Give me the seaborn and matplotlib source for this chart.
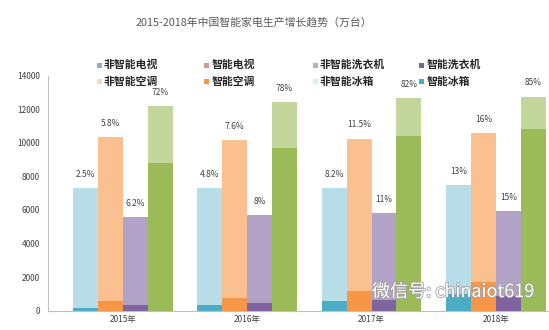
import matplotlib
matplotlib.use("Agg")
import matplotlib.pyplot as plt
import matplotlib.patheffects as pe
from matplotlib.patches import Rectangle
import seaborn as sns
import pandas as pd

years = ["2015年", "2016年", "2017年", "2018年"]
appliances = ["冰箱", "空调", "洗衣机", "电视"]
# totals (万台)
fridge_total = [7300, 7300, 7300, 7500]
ac_total = [10350, 10150, 10250, 10550]
washer_total = [5580, 5700, 5820, 5940]
tv_total = [12200, 12450, 12650, 12750]
# smart share (%)
fridge_pct = [2.5, 4.8, 8.2, 13]
ac_pct = [5.8, 7.6, 11.5, 16]
washer_pct = [6.2, 8, 11, 15]
tv_pct = [72, 78, 82, 85]
pct_labels = {
    "冰箱": ["2.5%", "4.8%", "8.2%", "13%"],
    "空调": ["5.8%", "7.6%", "11.5%", "16%"],
    "洗衣机": ["6.2%", "8%", "11%", "15%"],
    "电视": ["72%", "78%", "82%", "85%"],
}

legend_labels = ["非智能电视", "智能电视", "非智能洗衣机", "智能洗衣机",
                 "非智能空调", "智能空调", "非智能冰箱", "智能冰箱"]
legend_colors = ["#95A8C8", "#D99594", "#B2B2BA", "#6E6A8C",
                 "#FCD5B4", "#F79646", "#DAEEF3", "#4BACC6"]

totals = {"冰箱": fridge_total, "空调": ac_total, "洗衣机": washer_total, "电视": tv_total}
pcts = {"冰箱": fridge_pct, "空调": ac_pct, "洗衣机": washer_pct, "电视": tv_pct}

rows = []
for a in appliances:
    for i, y in enumerate(years):
        t = totals[a][i]
        rows.append({"year": y, "app": a, "total": t, "smart": t * pcts[a][i] / 100.0})
df = pd.DataFrame(rows)

light = {"冰箱": "#B7DEE8", "空调": "#FAC090", "洗衣机": "#B3A2C7", "电视": "#C3D69B"}
dark = {"冰箱": "#4BACC6", "空调": "#F79646", "洗衣机": "#8064A2", "电视": "#9BBB59"}

sns.set_theme(style="white")
plt.rcParams['font.family'] = ['Noto Sans CJK SC', 'DejaVu Sans']

W, H = 549, 330
fig = plt.figure(figsize=(W / 100, H / 100), dpi=100)
ax = fig.add_axes([48.3 / W, 0.0585, 1 - 48.3 / W, 0.7127])

sns.barplot(data=df, x="year", y="total", hue="app", hue_order=appliances,
            order=years, palette=light, width=0.8, saturation=1, ax=ax,
            legend=False, errorbar=None, linewidth=0)
sns.barplot(data=df, x="year", y="smart", hue="app", hue_order=appliances,
            order=years, palette=dark, width=0.8, saturation=1, ax=ax,
            legend=False, errorbar=None, linewidth=0)

for k, a in enumerate(appliances):
    cont = ax.containers[k]
    for i, bar in enumerate(cont):
        x = bar.get_x() + bar.get_width() / 2
        ax.annotate(pct_labels[a][i], (x, bar.get_height()), xytext=(0, 6.5),
                    textcoords="offset points", ha="center", va="bottom",
                    fontsize=6, color="#404040")

ax.set_xlim(-0.599, 3.426)
ax.set_ylim(0, 14000)
ax.set_yticks(range(0, 14001, 2000))
ax.set_xlabel("")
ax.set_ylabel("")
ax.tick_params(axis="y", labelsize=6, colors="#404040", length=2, direction="in", pad=6)
ax.tick_params(axis="x", labelsize=6, colors="#404040", length=0, pad=3)
for s in ["top", "right"]:
    ax.spines[s].set_visible(False)
for s in ["left", "bottom"]:
    ax.spines[s].set_color("#BFBFBF")
    ax.spines[s].set_linewidth(0.8)
ax.tick_params(axis="y", color="#BFBFBF")

# legend laid out in a fixed 4x2 grid
col_x = [99.3, 206.7, 315.0, 421.7]
row_y = [65.0, 81.5]
sq = 5.0
for idx, (lab, col) in enumerate(zip(legend_labels, legend_colors)):
    r, c = divmod(idx, 4)
    cx, cy = col_x[c], row_y[r]
    fig.patches.append(Rectangle(((cx - sq / 2) / W, 1 - (cy + sq / 2) / H), sq / W, sq / H,
                                 transform=fig.transFigure, facecolor=col,
                                 edgecolor="none", figure=fig))
    fig.text((cx + 4.5) / W, 1 - cy / H, lab, ha="left", va="center",
             fontsize=7.8, fontweight="bold", color="#262626")

fig.text(254 / W, 1 - 23 / H, "2015-2018年中国智能家电生产增长趋势（万台）",
         ha="center", va="center", fontsize=7.8, color="#595959")

# watermark
fig.text(372 / W, 1 - 292 / H, "微信号: chinaiot619", ha="left", va="center",
         fontsize=13, color="white",
         path_effects=[pe.withStroke(linewidth=1.2, foreground="#A0A0A0")])

fig.savefig("out.png", dpi=100)
